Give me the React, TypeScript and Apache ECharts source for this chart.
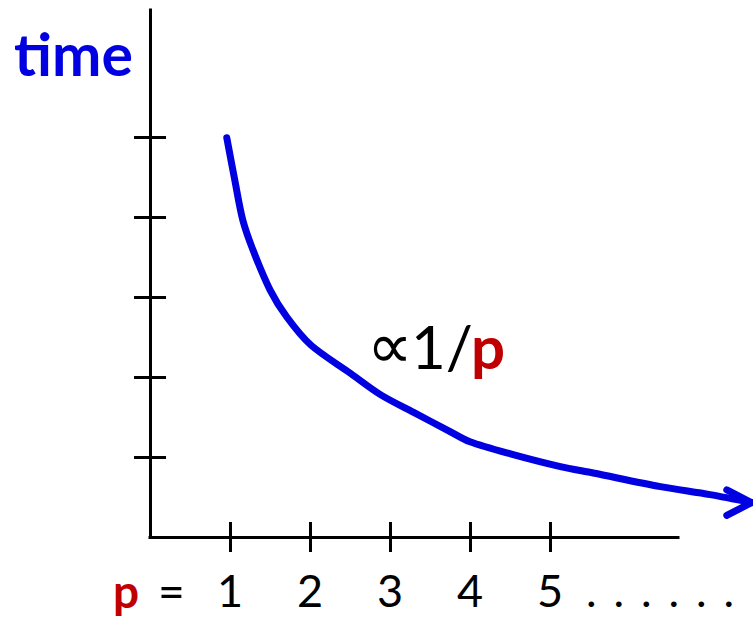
import React, { useEffect, useRef } from "react";
import * as echarts from "echarts";

// p values (x) and relative time (y)
const curveP = [0.96, 1.06, 1.16, 1.29, 1.5, 1.71, 2.01, 2.5, 2.88, 3.29, 3.71, 4.0, 4.54, 5.13, 5.54, 6.38, 7.0, 7.52];
const curveTime = [4.99, 4.46, 3.96, 3.58, 3.09, 2.75, 2.4, 2.05, 1.78, 1.56, 1.34, 1.19, 1.03, 0.88, 0.8, 0.63, 0.53, 0.43];
// arrow head at the end of the curve
const arrowP = [7.21, 7.52, 7.21];
const arrowTime = [0.59, 0.43, 0.27];
// tick values
const pTicks = [1, 2, 3, 4, 5];
const timeTicks = [1, 2, 3, 4, 5];
// drawn extent of the p axis line
const pAxisEnd = 6.6;
// trailing dots after the last tick label
const trailingDots = [".", ".", ".", ".", ".", "."];

const BLUE = "#0000e0";
const RED = "#c00000";
const FONT = "Lato, 'Open Sans', sans-serif";

export default function App() {
  const ref = useRef<HTMLDivElement>(null);
  useEffect(() => {
    const chart = echarts.init(ref.current!, null, { renderer: "svg" });
    const xCommon = { type: "value" as const, min: 0, max: 7.5375, splitLine: { show: false }, axisLine: { show: false } };
    const yCommon = { type: "value" as const, min: 0, max: 6.5875, splitLine: { show: false } };
    const tickStyle = { color: "#000", width: 3 };
    const labelY = 590;
    chart.setOption({
      animation: false,
      backgroundColor: "#ffffff",
      grid: { left: 150, top: 10, width: 603, height: 527, outerBoundsMode: "none", containLabel: false },
      xAxis: [
        {
          ...xCommon,
          axisTick: { show: true, customValues: pTicks, inside: false, length: 15, lineStyle: tickStyle },
          axisLabel: {
            show: true,
            customValues: pTicks,
            margin: 53,
            verticalAlign: "middle",
            lineHeight: 36,
            fontSize: 45,
            color: "#000",
            fontFamily: FONT,
          },
        },
        {
          ...xCommon,
          position: "bottom",
          axisTick: { show: true, customValues: pTicks, inside: true, length: 15, lineStyle: tickStyle },
          axisLabel: { show: false },
        },
      ],
      yAxis: [
        {
          ...yCommon,
          axisLine: { show: true, lineStyle: { color: "#000", width: 3, cap: "square" } },
          axisTick: { show: true, customValues: timeTicks, inside: false, length: 16, lineStyle: tickStyle },
          axisLabel: { show: false },
        },
        {
          ...yCommon,
          position: "left",
          axisLine: { show: false },
          axisTick: { show: true, customValues: timeTicks, inside: true, length: 16, lineStyle: tickStyle },
          axisLabel: { show: false },
        },
      ],
      series: [
        {
          type: "line",
          name: "time",
          data: curveP.map((p, i) => [p, curveTime[i]]),
          smooth: 0.3,
          showSymbol: false,
          symbol: "none",
          clip: false,
          lineStyle: { color: BLUE, width: 7, cap: "round", join: "round" },
          markLine: {
            silent: true,
            symbol: "none",
            label: { show: false },
            emphasis: { disabled: true },
            lineStyle: { color: "#000", width: 3, type: "solid", cap: "square" },
            data: [[{ coord: [0, 0] }, { coord: [pAxisEnd, 0] }]],
          },
        },
        {
          type: "line",
          name: "arrow",
          data: arrowP.map((p, i) => [p, arrowTime[i]]),
          showSymbol: false,
          symbol: "none",
          clip: false,
          lineStyle: { color: BLUE, width: 7, cap: "round", join: "round" },
        },
      ],
      graphic: [
        {
          type: "text",
          left: 14,
          top: 24,
          style: { text: "time", fill: BLUE, font: `bold 59px ${FONT}` },
        },
        {
          type: "text",
          x: 367,
          y: 346,
          style: { text: "∝", fill: "#000", font: `64px 'DejaVu Sans', sans-serif`, verticalAlign: "middle" },
        },
        {
          type: "text",
          x: 411,
          y: 346,
          style: { text: "1/", fill: "#000", font: `60px ${FONT}`, verticalAlign: "middle" },
        },
        {
          type: "text",
          x: 471,
          y: 346,
          style: { text: "p", fill: RED, font: `bold 60px ${FONT}`, verticalAlign: "middle" },
        },
        {
          type: "text",
          x: 113,
          y: labelY,
          style: { text: "p", fill: RED, font: `bold 46px ${FONT}`, verticalAlign: "middle" },
        },
        {
          type: "text",
          x: 158,
          y: labelY,
          style: { text: "=", fill: "#000", font: `46px ${FONT}`, verticalAlign: "middle" },
        },
        ...trailingDots.map((d, i) => ({
          type: "text",
          x: 586 + i * 27.5,
          y: labelY,
          style: { text: d, fill: "#000", font: `45px ${FONT}`, verticalAlign: "middle" },
        })),
      ],
    });
    return () => chart.dispose();
  }, []);
  return (
    <div
      ref={ref}
      style={{ position: "fixed", left: 0, top: 0, width: 753, height: 618 }}
    />
  );
}
